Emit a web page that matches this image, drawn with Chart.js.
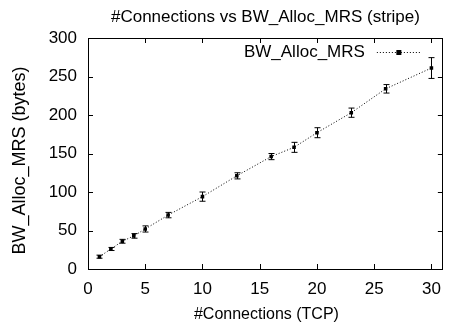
<!DOCTYPE html>
<html>
<head>
<meta charset="utf-8">
<script src="https://cdn.jsdelivr.net/npm/chart.js@4"></script>
<style>
  html, body { margin: 0; padding: 0; background: #fff; }
  #wrap { width: 451px; height: 326px; }
</style>
</head>
<body>
<div id="wrap"><canvas id="chart" width="451" height="326"></canvas></div>
<script>
const connections = [1, 2, 3, 4, 5, 7, 10, 13, 16, 18, 20, 23, 26, 30];
const allocBytes = [16, 26, 36, 43, 52, 70, 94, 121, 146, 158, 177, 203, 234, 261];
const allocErr = [2, 2, 2.5, 3, 4, 3.5, 6, 4, 4, 6.5, 6.5, 6, 5.5, 13.5];
const xTicks = [0, 5, 10, 15, 20, 25, 30];
const yTicks = [0, 50, 100, 150, 200, 250, 300];

const chartTitle = '#Connections vs BW_Alloc_MRS (stripe)';
const xTitle = '#Connections (TCP)';
const yTitle = 'BW_Alloc_MRS (bytes)';

const FONT = 'Liberation Sans, Arial, Helvetica, sans-serif';

// titles, box, inward ticks on all sides, error bars, legend
const framePlugin = {
    id: 'frame',
    afterDatasetsDraw(chart) {
        const ctx = chart.ctx;
        const a = chart.chartArea;
        const xs = chart.scales.x;
        const ys = chart.scales.y;
        ctx.save();
        ctx.strokeStyle = '#000';
        ctx.fillStyle = '#000';
        ctx.lineWidth = 1;

        // error bars
        connections.forEach((c, i) => {
            const px = Math.round(xs.getPixelForValue(c)) + 0.5;
            const top = ys.getPixelForValue(allocBytes[i] + allocErr[i]);
            const bot = ys.getPixelForValue(allocBytes[i] - allocErr[i]);
            ctx.beginPath();
            ctx.moveTo(px, top);
            ctx.lineTo(px, bot);
            ctx.moveTo(px - 3, top);
            ctx.lineTo(px + 3, top);
            ctx.moveTo(px - 3, bot);
            ctx.lineTo(px + 3, bot);
            ctx.stroke();
        });

        // frame
        ctx.strokeRect(Math.round(a.left) + 0.5, Math.round(a.top) + 0.5,
            Math.round(a.right - a.left) - 1, Math.round(a.bottom - a.top));

        ctx.beginPath();
        xTicks.forEach(t => {
            const px = Math.round(xs.getPixelForValue(t)) + 0.5;
            ctx.moveTo(px, a.bottom);
            ctx.lineTo(px, a.bottom - 5);
            ctx.moveTo(px, a.top);
            ctx.lineTo(px, a.top + 5);
        });
        yTicks.forEach(t => {
            const py = Math.round(ys.getPixelForValue(t)) + 0.5;
            ctx.moveTo(a.left, py);
            ctx.lineTo(a.left + 5, py);
            ctx.moveTo(a.right, py);
            ctx.lineTo(a.right - 5, py);
        });
        ctx.stroke();

        // legend
        const ly = a.top + 14;
        ctx.font = '17px ' + FONT;
        ctx.textAlign = 'right';
        ctx.textBaseline = 'middle';
        ctx.fillText(chart.data.datasets[0].label, a.right - 78, ly);
        ctx.setLineDash([1, 2]);
        ctx.beginPath();
        ctx.moveTo(a.right - 66, ly + 0.5);
        ctx.lineTo(a.right - 22, ly + 0.5);
        ctx.stroke();
        ctx.setLineDash([]);
        ctx.fillRect(a.right - 46.5, ly - 2, 5, 5);

        // titles
        ctx.textAlign = 'center';
        ctx.textBaseline = 'alphabetic';
        ctx.font = '17px ' + FONT;
        ctx.fillText(chartTitle, (a.left + a.right) / 2, 22);
        ctx.font = '16px ' + FONT;
        ctx.fillText(xTitle, (a.left + a.right) / 2 + 1, 319);
        ctx.font = '18px ' + FONT;
        ctx.translate(25, 160.5);
        ctx.rotate(-Math.PI / 2);
        ctx.fillText(yTitle, 0, 0);
        ctx.restore();
    }
};

const ctx = document.getElementById('chart').getContext('2d');
new Chart(ctx, {
    type: 'line',
    data: {
        datasets: [{
            label: 'BW_Alloc_MRS',
            data: connections.map((c, i) => ({ x: c, y: allocBytes[i] })),
            borderColor: '#000',
            borderWidth: 1,
            borderDash: [1, 2],
            pointStyle: 'rect',
            pointRadius: 2.5,
            pointBackgroundColor: '#000',
            pointBorderColor: '#000',
            pointBorderWidth: 0,
            tension: 0,
            fill: false
        }]
    },
    options: {
        responsive: false,
        animation: false,
        layout: { padding: { left: 0, right: 1, top: 38, bottom: 0 } },
        plugins: {
            legend: { display: false },
            tooltip: { enabled: false },
            title: { display: false }
        },
        scales: {
            x: {
                type: 'linear',
                min: 0,
                max: 31,
                afterFit: s => { s.height = 57; },
                afterBuildTicks: s => { s.ticks = xTicks.map(v => ({ value: v })); },
                grid: { display: false, drawTicks: false },
                border: { display: false },
                ticks: {
                    color: '#000',
                    padding: 10,
                    maxRotation: 0,
                    font: { family: FONT, size: 17 }
                }
            },
            y: {
                type: 'linear',
                min: 0,
                max: 300,
                afterFit: s => { s.width = 88; },
                afterBuildTicks: s => { s.ticks = yTicks.map(v => ({ value: v })); },
                grid: { display: false, drawTicks: false },
                border: { display: false },
                ticks: {
                    color: '#000',
                    padding: 11,
                    font: { family: FONT, size: 17 }
                }
            }
        }
    },
    plugins: [framePlugin]
});
</script>
</body>
</html>
